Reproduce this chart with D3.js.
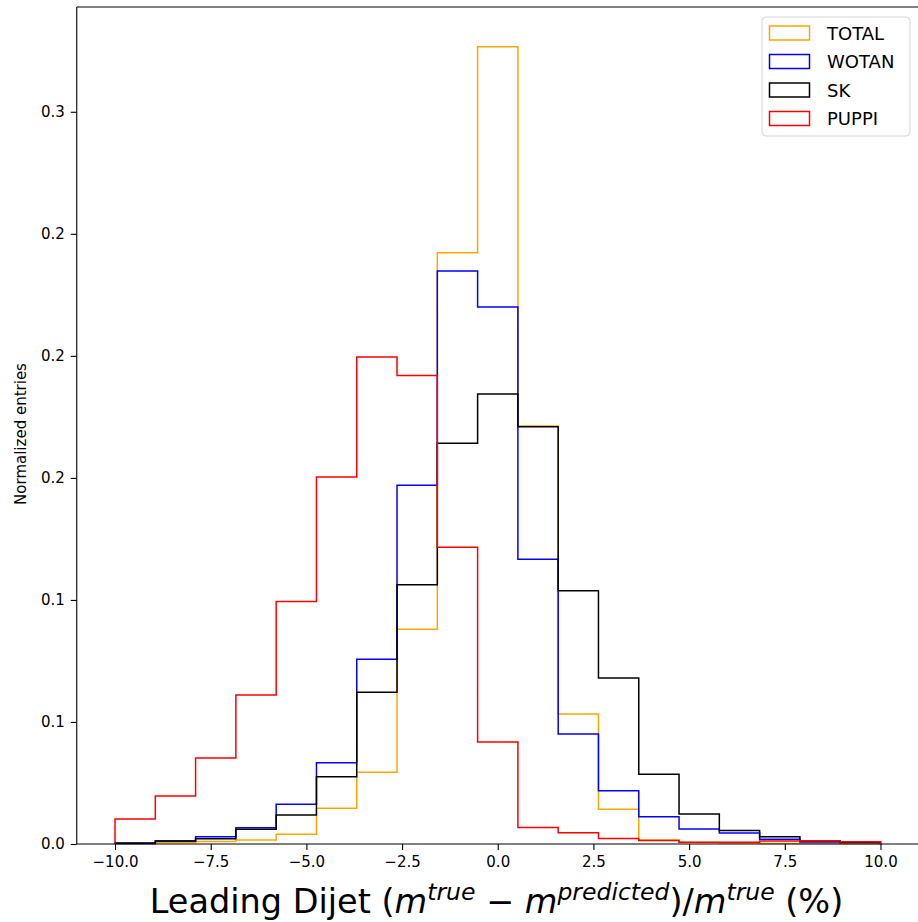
<!DOCTYPE html>
<html>
<head>
<meta charset="utf-8">
<script src="https://cdn.jsdelivr.net/npm/d3@7"></script>
<style>
  html, body { margin: 0; padding: 0; background: #fff; }
  svg { display: block; font-family: "DejaVu Sans", sans-serif; }
</style>
</head>
<body>
<svg id="chart" width="918" height="922"></svg>
<script>
// ---- data ----
const binEdgeMin = -10;
const binEdgeMax = 10;
const binCount = 19;

const seriesNames = ["TOTAL", "WOTAN", "SK", "PUPPI"];
const seriesColors = ["#FFA500", "#0000FF", "#000000", "#FF0000"];

const totalValues = [0.0002, 0.0006, 0.0010, 0.0016, 0.0040, 0.0146, 0.0294, 0.0880, 0.2422, 0.3266,
                     0.1713, 0.0533, 0.0142, 0.0016, 0.0006, 0.0004, 0.0002, 0.0002, 0.0001];
const wotanValues = [0.0002, 0.0012, 0.0030, 0.0067, 0.0163, 0.0333, 0.0757, 0.1470, 0.2348, 0.2200,
                     0.1167, 0.0451, 0.0218, 0.0112, 0.0061, 0.0045, 0.0019, 0.0008, 0.0006];
const skValues    = [0.0004, 0.0012, 0.0022, 0.0060, 0.0119, 0.0276, 0.0622, 0.1062, 0.1642, 0.1844,
                     0.1710, 0.1038, 0.0680, 0.0286, 0.0123, 0.0055, 0.0030, 0.0013, 0.0009];
const puppiValues = [0.0102, 0.0197, 0.0352, 0.0610, 0.0994, 0.1504, 0.1995, 0.1920, 0.1216, 0.0418,
                     0.0068, 0.0046, 0.0023, 0.0014, 0.0007, 0.0007, 0.0012, 0.0013, 0.0009];

const xTickValues = [-10, -7.5, -5, -2.5, 0, 2.5, 5, 7.5, 10];
const xTickLabels = ["\u221210.0", "\u22127.5", "\u22125.0", "\u22122.5", "0.0", "2.5", "5.0", "7.5", "10.0"];
const yTickValues = [0, 0.05, 0.10, 0.15, 0.20, 0.25, 0.30];
const yTickLabels = ["0.0", "0.1", "0.1", "0.2", "0.2", "0.2", "0.3"];

const allSeries = [totalValues, wotanValues, skValues, puppiValues];

// ---- layout ----
const svg = d3.select("#chart");
const x = d3.scaleLinear().domain([-11, 11]).range([76.75, 918.75]);
const yMax = d3.max(allSeries.flat()) * 1.05;
const y = d3.scaleLinear().domain([0, yMax]).range([844, 7]);

const binWidth = (binEdgeMax - binEdgeMin) / binCount;
const edges = d3.range(binCount + 1).map(i => binEdgeMin + i * binWidth);

// step outline path
function stepPoints(vals) {
  const pts = [[edges[0], 0]];
  vals.forEach((v, i) => {
    pts.push([edges[i], v]);
    pts.push([edges[i + 1], v]);
  });
  pts.push([edges[binCount], 0]);
  return pts;
}
const line = d3.line().x(d => x(d[0])).y(d => y(d[1]));

const plot = svg.append("g");
allSeries.forEach((vals, k) => {
  plot.append("path")
    .attr("d", line(stepPoints(vals)))
    .attr("fill", "none")
    .attr("stroke", seriesColors[k])
    .attr("stroke-width", 1.5)
    .attr("stroke-linejoin", "miter");
});

// spines
const spineG = svg.append("g").attr("stroke", "#000").attr("stroke-width", 1.1).attr("fill", "none");
spineG.append("line").attr("x1", x(-11)).attr("x2", x(-11)).attr("y1", y(yMax)).attr("y2", y(0));
spineG.append("line").attr("x1", x(-11)).attr("x2", x(11)).attr("y1", y(yMax)).attr("y2", y(yMax));
spineG.append("line").attr("x1", x(-11)).attr("x2", x(11)).attr("y1", y(0)).attr("y2", y(0));

// axes
const xAxis = d3.axisBottom(x).tickValues(xTickValues)
  .tickFormat((d, i) => xTickLabels[i]).tickSize(6).tickPadding(6);
const gx = svg.append("g").attr("transform", `translate(0,${y(0)})`).call(xAxis);
gx.select(".domain").remove();
gx.selectAll("text").attr("font-size", 15).attr("font-family", "DejaVu Sans").attr("fill", "#000");
gx.selectAll("line").attr("stroke", "#000").attr("stroke-width", 1.1);

const yAxis = d3.axisLeft(y).tickValues(yTickValues)
  .tickFormat((d, i) => yTickLabels[i]).tickSize(6).tickPadding(6);
const gy = svg.append("g").attr("transform", `translate(${x(-11)},0)`).call(yAxis);
gy.select(".domain").remove();
gy.selectAll("text").attr("font-size", 15).attr("font-family", "DejaVu Sans").attr("fill", "#000");
gy.selectAll("line").attr("stroke", "#000").attr("stroke-width", 1.1);

// y label
svg.append("text")
  .attr("transform", `translate(26,434) rotate(-90)`)
  .attr("text-anchor", "middle")
  .attr("font-size", 15)
  .attr("fill", "#000")
  .text("Normalized entries");

// x label with math
const xl = svg.append("text")
  .attr("x", 496.5)
  .attr("y", 913)
  .attr("text-anchor", "middle")
  .attr("font-size", 33.5)
  .attr("fill", "#000");
xl.append("tspan").text("Leading Dijet (");
xl.append("tspan").attr("font-style", "italic").text("m");
xl.append("tspan").attr("font-style", "italic").attr("font-size", 23.5).attr("dy", -13.5).text("true");
xl.append("tspan").attr("dy", 13.5).text(" \u2212 ");
xl.append("tspan").attr("font-style", "italic").text("m");
xl.append("tspan").attr("font-style", "italic").attr("font-size", 23.5).attr("dy", -13.5).text("predicted");
xl.append("tspan").attr("dy", 13.5).text(")/");
xl.append("tspan").attr("font-style", "italic").text("m");
xl.append("tspan").attr("font-style", "italic").attr("font-size", 23.5).attr("dy", -13.5).text("true");
xl.append("tspan").attr("dy", 13.5).text(" (%)");

// legend
const lg = svg.append("g");
lg.append("rect")
  .attr("x", 762).attr("y", 17).attr("width", 148).attr("height", 119)
  .attr("rx", 4).attr("ry", 4)
  .attr("fill", "#fff").attr("fill-opacity", 0.8)
  .attr("stroke", "#d6d6d6").attr("stroke-width", 1);
seriesNames.forEach((name, i) => {
  const cy = 33 + i * 28.5;
  lg.append("rect")
    .attr("x", 769.5).attr("y", cy - 7).attr("width", 40).attr("height", 14)
    .attr("fill", "none").attr("stroke", seriesColors[i]).attr("stroke-width", 1.5);
  lg.append("text")
    .attr("x", 827).attr("y", cy + 6.5)
    .attr("font-size", 18).attr("fill", "#000")
    .text(name);
});
</script>
</body>
</html>
